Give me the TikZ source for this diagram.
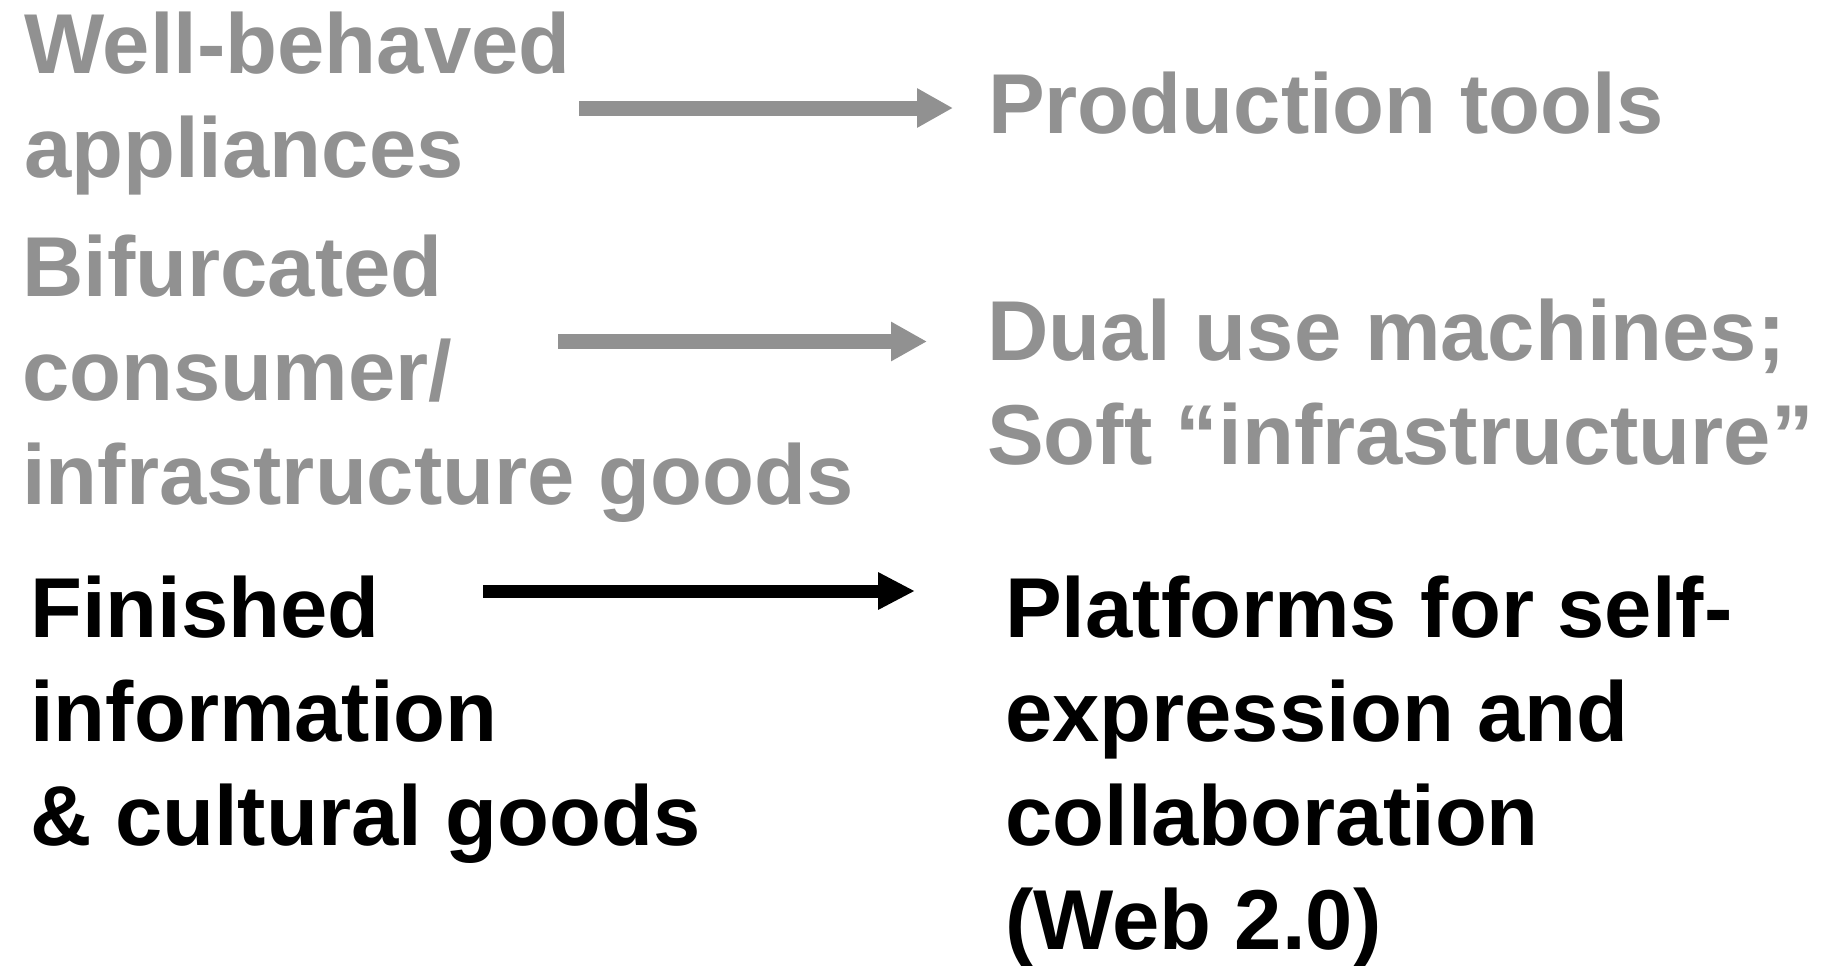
\documentclass[tikz,border=0pt]{standalone}
\usepackage{fontspec}
\setmainfont{Liberation Sans}
\usepackage{xcolor}
\usepackage{tikz}
\usetikzlibrary{arrows.meta}
\usetikzlibrary{positioning}

\definecolor{oldgray}{RGB}{145,145,145}

\begin{document}
\begin{tikzpicture}[x=1pt,y=-1pt]
    \useasboundingbox (0,0) rectangle (1831,966);
    % base anchor sits on the last line of each block
    \begin{scope}[every node/.style={inner sep=0pt,align=left,anchor=base west,
        font=\bfseries\fontsize{85}{104}\selectfont}]
    \node[text=oldgray] (wellbehaved) at (24,177) {Well-behaved\\appliances};
    \node[text=oldgray] (bifurcated) at (22,504) {Bifurcated\\consumer/\\infrastructure goods};
    \node[text=black] (finished) at (30,845) {Finished\\information\\\& cultural goods};
    \node[text=oldgray] (production) at (988,133) {Production tools};
    \node[text=oldgray] (dualuse) at (987,464) {Dual use machines;\\Soft “infrastructure”};
    \node[text=black] (platforms) at (1005,949) {Platforms for self-\\expression and\\collaboration\\(Web 2.0)};
    \end{scope}
    \coordinate (wbfrom) at (579,108);
    \coordinate (wbto) at (953,108);
    \coordinate (bifrom) at (558,341.5);
    \coordinate (bito) at (927,341.5);
    \coordinate (fifrom) at (483,591);
    \coordinate (fito) at (915,591);
    \begin{scope}[every path/.style={line width=15pt,-{Triangle[length=36pt,width=37pt]}}]
    \draw[oldgray] (wbfrom) -- (wbto);
    \draw[oldgray] (bifrom) -- (bito);
    \draw[black,line width=13pt,-{Triangle[length=37pt,width=35pt]}] (fifrom) -- (fito);
    \end{scope}
\end{tikzpicture}
\end{document}
